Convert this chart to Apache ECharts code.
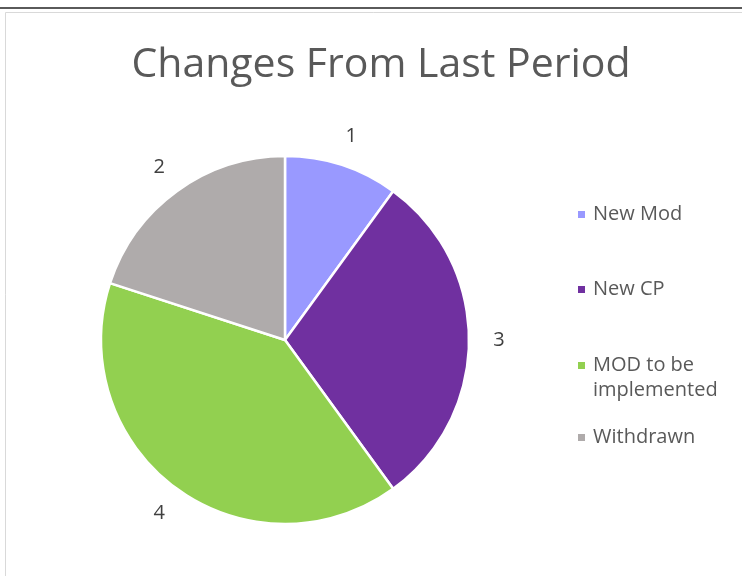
<!DOCTYPE html>
<html>
<head>
<meta charset="utf-8">
<script src="https://cdn.jsdelivr.net/npm/echarts@6/dist/echarts.min.js"></script>
<style>
html,body{margin:0;padding:0;background:#fff;}
#c{width:742px;height:576px;}
</style>
</head>
<body>
<div id="c"></div>
<script>
const categories = ['New Mod', 'New CP', 'MOD to be implemented', 'Withdrawn'];
const values = [1, 3, 4, 2];
const colors = ['#9999FF', '#7030A0', '#92D050', '#AFABAB'];
const legendLabels = ['New Mod', 'New CP', '{e| }\nMOD to be\nimplemented', 'Withdrawn'];
const legendTops = [202, 277, 328, 425];

const FONT = '"Open Sans", sans-serif';
const chart = echarts.init(document.getElementById('c'), null, {renderer: 'canvas'});

const pieData = categories.map((n, i) => ({name: n, value: values[i], itemStyle: {color: colors[i]}}));
const labelData = categories.map((n, i) => ({name: n, value: values[i]}));

const legends = categories.map((n, i) => ({
  data: [n],
  orient: 'vertical',
  left: 576,
  top: legendTops[i],
  padding: 0,
  icon: 'rect',
  itemWidth: 9,
  itemHeight: 9,
  itemGap: 0,
  selectedMode: false,
  formatter: () => legendLabels[i],
  textStyle: {
    color: '#595959',
    fontSize: 20,
    fontFamily: FONT,
    lineHeight: 25,
    padding: [0, 0, 0, 2],
    rich: {e: {fontSize: 20, lineHeight: 25}}
  }
}));

chart.setOption({
  backgroundColor: '#ffffff',
  animation: false,
  title: {
    text: 'Changes From Last Period',
    left: 376,
    textAlign: 'center',
    top: 40,
    textStyle: {color: '#595959', fontSize: 41, fontWeight: 'normal', fontFamily: FONT}
  },
  legend: legends,
  graphic: [
    {type: 'line', shape: {x1: 0, y1: 8, x2: 742, y2: 8}, style: {stroke: '#5a5a5a', lineWidth: 2}},
    {type: 'polyline', shape: {points: [[5.5, 576], [5.5, 12.5], [742, 12.5]]}, style: {stroke: '#d9d9d9', lineWidth: 1, fill: null}}
  ],
  series: [
    {
      type: 'pie',
      center: [285, 340],
      radius: [0, 184],
      startAngle: 90,
      clockwise: true,
      data: pieData,
      label: {show: false},
      labelLine: {show: false},
      itemStyle: {borderColor: '#ffffff', borderWidth: 2.5},
      emphasis: {disabled: true}
    },
    {
      type: 'pie',
      center: [285, 340],
      radius: [184, 238],
      startAngle: 90,
      clockwise: true,
      silent: true,
      data: labelData,
      itemStyle: {color: 'rgba(0,0,0,0)'},
      label: {
        show: true,
        position: 'inside',
        formatter: '{c}',
        color: '#404040',
        fontSize: 20,
        fontFamily: FONT
      },
      labelLine: {show: false},
      emphasis: {disabled: true}
    }
  ]
});
</script>
</body>
</html>
